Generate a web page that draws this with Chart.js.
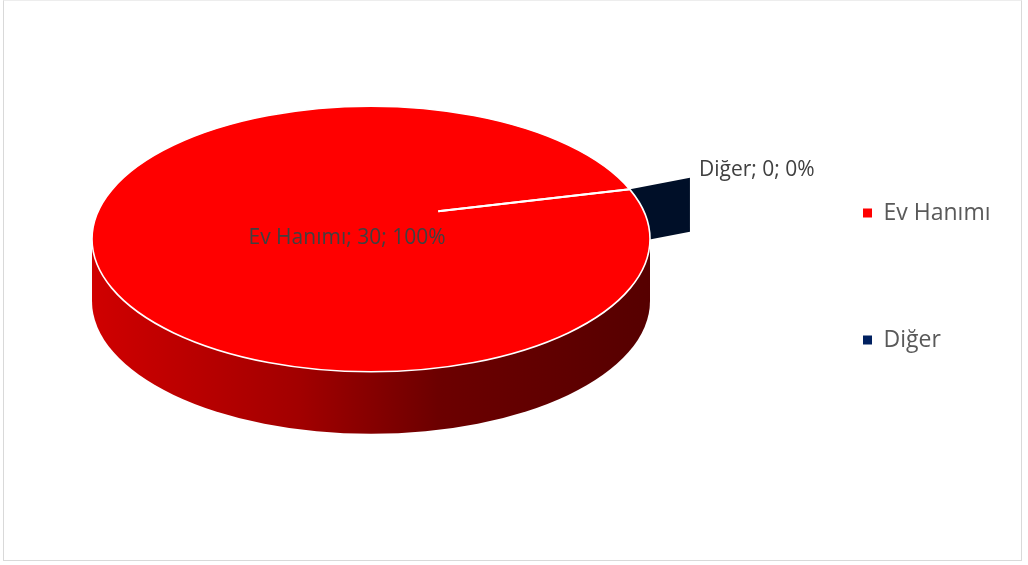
<!DOCTYPE html>
<html><head><meta charset="utf-8">
<script src="https://cdn.jsdelivr.net/npm/chart.js@4.4.0/dist/chart.umd.min.js"></script>
<style>
html,body{margin:0;padding:0;background:#fff;width:1028px;height:565px;overflow:hidden;position:relative;}
#frame{position:absolute;left:3px;top:0;width:1017px;height:559px;border:1px solid #d9d9d9;border-top-color:#ededed;}
#c{position:absolute;left:-17px;top:0;}
</style></head><body>
<div id="frame"></div>
<canvas id="c" width="1045" height="565"></canvas>
<script>
// ---- data ----
const categories = ['Ev Hanımı', 'Diğer'];
const values = [30, 0];
const explodeOffsets = [0, 65];

// ---- styles ----
const sliceColors = ['#ff0000', '#002060'];
const faceColors = ['#990000', '#000f28'];
const STYLE = {
  ratio: 0.476,      // vertical flattening of the pie top
  depth: 62,         // thickness of the pie
  faceDepth: 54,     // visible height of the exploded cut face
  lift: 37.5,        // top face centre above chart-area centre
  radius: 279,
  rotation: 68,
  apexLift: 20,      // perspective apex of the top face above its centre
  edgeStart: 0.26,   // fraction where the visible slice edge starts
  labelShiftX: -24,
  labelColor: '#404040',
  labelFont: '21px "Open Sans"'
};

const pie3d = {
  id: 'pie3d',
  beforeDatasetsDraw(chart) {
    const ctx = chart.ctx;
    const meta = chart.getDatasetMeta(0);
    const el0 = meta.data[0];
    const cx = el0.x, cy0 = el0.y, R = el0.outerRadius;
    const k = STYLE.ratio, ry = R * k;
    const cy = cy0 - STYLE.lift;
    chart.$pie = {cx, cy, R, k};
    // cut faces of exploded zero-size slices (behind the pie)
    meta.data.forEach((el, i) => {
      if (el.circumference > 0) return;
      const a = el.startAngle;
      const E = el.options.offset || 0;
      const dx = Math.cos(a), dy = Math.sin(a) * k;
      const x1 = cx + E * dx, y1 = cy + E * dy;
      const x2 = cx + (E + R) * dx, y2 = cy + (E + R) * dy;
      ctx.save();
      ctx.fillStyle = faceColors[i];
      ctx.beginPath();
      ctx.moveTo(x1, y1); ctx.lineTo(x2, y2);
      ctx.lineTo(x2, y2 + STYLE.faceDepth); ctx.lineTo(x1, y1 + STYLE.faceDepth);
      ctx.closePath(); ctx.fill();
      ctx.restore();
    });
    // side wall
    const g = ctx.createLinearGradient(cx - R, 0, cx + R, 0);
    g.addColorStop(0, '#d00000');
    g.addColorStop(0.37, '#a20000');
    g.addColorStop(0.62, '#6c0000');
    g.addColorStop(1, '#560000');
    ctx.save();
    ctx.fillStyle = g;
    ctx.beginPath();
    ctx.moveTo(cx + R, cy);
    ctx.lineTo(cx + R, cy + STYLE.depth);
    ctx.ellipse(cx, cy + STYLE.depth, R, ry, 0, 0, Math.PI, false);
    ctx.lineTo(cx - R, cy);
    ctx.closePath();
    ctx.fill();
    ctx.restore();
    // flatten the top face drawn by Chart.js
    ctx.save();
    ctx.translate(cx, cy);
    ctx.scale(1, k);
    ctx.translate(-cx, -cy0);
  },
  afterDatasetsDraw(chart) {
    const ctx = chart.ctx;
    ctx.restore();
    const {cx, cy, R, k} = chart.$pie;
    const meta = chart.getDatasetMeta(0);
    // white rim of the top face
    ctx.save();
    ctx.strokeStyle = '#ffffff';
    ctx.lineWidth = 1.6;
    ctx.beginPath();
    ctx.ellipse(cx, cy, R, R * k, 0, 0, Math.PI * 2);
    ctx.stroke();
    // visible slice edges
    meta.data.forEach((el, i) => {
      if (el.circumference >= Math.PI * 2 - 1e-6 && meta.data.length < 2) return;
      const a = el.startAngle;
      const rx = cx + R * Math.cos(a), ryy = cy + R * Math.sin(a) * k;
      const ax = cx, ay = cy - STYLE.apexLift;
      const sx = ax + STYLE.edgeStart * (rx - ax), sy = ay + STYLE.edgeStart * (ryy - ay);
      ctx.lineWidth = 1.8;
      ctx.beginPath(); ctx.moveTo(sx, sy); ctx.lineTo(rx, ryy); ctx.stroke();
    });
    ctx.restore();
    // data labels
    const total = values.reduce((s, v) => s + v, 0);
    ctx.save();
    ctx.font = STYLE.labelFont;
    ctx.fillStyle = STYLE.labelColor;
    ctx.textBaseline = 'middle';
    meta.data.forEach((el, i) => {
      const pct = Math.round(values[i] / total * 100);
      const text = categories[i] + '; ' + values[i] + '; ' + pct + '%';
      if (el.circumference > 0) {
        ctx.textAlign = 'center';
        ctx.fillText(text, cx + STYLE.labelShiftX, cy - 1);
      } else {
        const a = el.startAngle;
        const E = el.options.offset || 0;
        const x2 = cx + (E + R) * Math.cos(a), y2 = cy + (E + R) * Math.sin(a) * k;
        ctx.textAlign = 'left';
        ctx.fillText(text, x2 + 9, y2 - 7.5);
      }
    });
    ctx.restore();
  }
};

new Chart(document.getElementById('c'), {
  type: 'pie',
  data: {
    labels: categories,
    datasets: [{
      data: values,
      backgroundColor: sliceColors,
      borderWidth: 0,
      offset: explodeOffsets,
      radius: STYLE.radius,
      rotation: STYLE.rotation,
      clip: false
    }]
  },
  options: {
    responsive: false,
    animation: false,
    events: [],
    layout: {padding: {left: 0, right: 27.5, top: 0, bottom: 12}},
    plugins: {
      tooltip: {enabled: false},
      legend: {
        position: 'right',
        align: 'center',
        labels: {
          boxWidth: 9,
          boxHeight: 9,
          padding: 104,
          color: '#595959',
          font: {family: 'Open Sans', size: 23},
          generateLabels(chart) {
            const items = Chart.overrides.pie.plugins.legend.labels.generateLabels(chart);
            items.forEach(it => { it.lineWidth = 0; it.strokeStyle = 'rgba(0,0,0,0)'; });
            return items;
          }
        }
      }
    }
  },
  plugins: [pie3d]
});
</script>
</body></html>
